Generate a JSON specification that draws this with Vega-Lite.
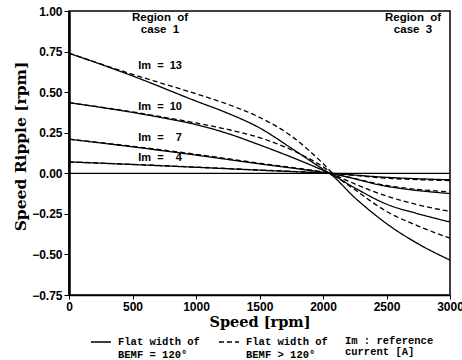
{
  "$schema": "https://vega.github.io/schema/vega-lite/v6.json",
  "width": 381,
  "height": 284,
  "autosize": {"type": "none"},
  "padding": {"left": 69, "top": 11, "right": 12, "bottom": 65},
  "background": "white",
  "config": {
    "view": {"stroke": "black", "strokeWidth": 1.5},
    "axis": {
      "labelFont": "Liberation Sans",
      "labelFontWeight": "bold",
      "labelFontSize": 12,
      "labelColor": "black",
      "titleFont": "DejaVu Serif",
      "titleFontWeight": "bold",
      "titleColor": "black",
      "domainColor": "black",
      "tickColor": "black",
      "grid": false
    }
  },
  "datasets": {
    "curves": [
      {"s": "S13", "type": "Flat width of|\u00a0BEMF = 120°", "rpm": 0, "v": 0.74},
      {"s": "S13", "type": "Flat width of|\u00a0BEMF = 120°", "rpm": 500, "v": 0.6},
      {"s": "S13", "type": "Flat width of|\u00a0BEMF = 120°", "rpm": 1000, "v": 0.445},
      {"s": "S13", "type": "Flat width of|\u00a0BEMF = 120°", "rpm": 1250, "v": 0.37},
      {"s": "S13", "type": "Flat width of|\u00a0BEMF = 120°", "rpm": 1500, "v": 0.28},
      {"s": "S13", "type": "Flat width of|\u00a0BEMF = 120°", "rpm": 1750, "v": 0.155},
      {"s": "S13", "type": "Flat width of|\u00a0BEMF = 120°", "rpm": 2000, "v": 0.025},
      {"s": "S13", "type": "Flat width of|\u00a0BEMF = 120°", "rpm": 2050, "v": 0},
      {"s": "S13", "type": "Flat width of|\u00a0BEMF = 120°", "rpm": 2250, "v": -0.15},
      {"s": "S13", "type": "Flat width of|\u00a0BEMF = 120°", "rpm": 2500, "v": -0.31},
      {"s": "S13", "type": "Flat width of|\u00a0BEMF = 120°", "rpm": 2750, "v": -0.435},
      {"s": "S13", "type": "Flat width of|\u00a0BEMF = 120°", "rpm": 3000, "v": -0.535},

      {"s": "D13", "type": "Flat width of|\u00a0BEMF > 120°", "rpm": 0, "v": 0.74},
      {"s": "D13", "type": "Flat width of|\u00a0BEMF > 120°", "rpm": 500, "v": 0.61},
      {"s": "D13", "type": "Flat width of|\u00a0BEMF > 120°", "rpm": 750, "v": 0.55},
      {"s": "D13", "type": "Flat width of|\u00a0BEMF > 120°", "rpm": 1000, "v": 0.49},
      {"s": "D13", "type": "Flat width of|\u00a0BEMF > 120°", "rpm": 1250, "v": 0.425},
      {"s": "D13", "type": "Flat width of|\u00a0BEMF > 120°", "rpm": 1500, "v": 0.345},
      {"s": "D13", "type": "Flat width of|\u00a0BEMF > 120°", "rpm": 1750, "v": 0.23},
      {"s": "D13", "type": "Flat width of|\u00a0BEMF > 120°", "rpm": 2000, "v": 0.06},
      {"s": "D13", "type": "Flat width of|\u00a0BEMF > 120°", "rpm": 2075, "v": 0},
      {"s": "D13", "type": "Flat width of|\u00a0BEMF > 120°", "rpm": 2250, "v": -0.1},
      {"s": "D13", "type": "Flat width of|\u00a0BEMF > 120°", "rpm": 2500, "v": -0.235},
      {"s": "D13", "type": "Flat width of|\u00a0BEMF > 120°", "rpm": 2750, "v": -0.325},
      {"s": "D13", "type": "Flat width of|\u00a0BEMF > 120°", "rpm": 3000, "v": -0.4},

      {"s": "S10", "type": "Flat width of|\u00a0BEMF = 120°", "rpm": 0, "v": 0.435},
      {"s": "S10", "type": "Flat width of|\u00a0BEMF = 120°", "rpm": 500, "v": 0.375},
      {"s": "S10", "type": "Flat width of|\u00a0BEMF = 120°", "rpm": 750, "v": 0.34},
      {"s": "S10", "type": "Flat width of|\u00a0BEMF = 120°", "rpm": 1000, "v": 0.3},
      {"s": "S10", "type": "Flat width of|\u00a0BEMF = 120°", "rpm": 1250, "v": 0.245},
      {"s": "S10", "type": "Flat width of|\u00a0BEMF = 120°", "rpm": 1500, "v": 0.175},
      {"s": "S10", "type": "Flat width of|\u00a0BEMF = 120°", "rpm": 1750, "v": 0.1},
      {"s": "S10", "type": "Flat width of|\u00a0BEMF = 120°", "rpm": 2000, "v": 0.018},
      {"s": "S10", "type": "Flat width of|\u00a0BEMF = 120°", "rpm": 2050, "v": 0},
      {"s": "S10", "type": "Flat width of|\u00a0BEMF = 120°", "rpm": 2250, "v": -0.09},
      {"s": "S10", "type": "Flat width of|\u00a0BEMF = 120°", "rpm": 2500, "v": -0.19},
      {"s": "S10", "type": "Flat width of|\u00a0BEMF = 120°", "rpm": 2750, "v": -0.25},
      {"s": "S10", "type": "Flat width of|\u00a0BEMF = 120°", "rpm": 3000, "v": -0.3},

      {"s": "D10", "type": "Flat width of|\u00a0BEMF > 120°", "rpm": 0, "v": 0.435},
      {"s": "D10", "type": "Flat width of|\u00a0BEMF > 120°", "rpm": 500, "v": 0.378},
      {"s": "D10", "type": "Flat width of|\u00a0BEMF > 120°", "rpm": 750, "v": 0.345},
      {"s": "D10", "type": "Flat width of|\u00a0BEMF > 120°", "rpm": 1000, "v": 0.31},
      {"s": "D10", "type": "Flat width of|\u00a0BEMF > 120°", "rpm": 1250, "v": 0.27},
      {"s": "D10", "type": "Flat width of|\u00a0BEMF > 120°", "rpm": 1500, "v": 0.22},
      {"s": "D10", "type": "Flat width of|\u00a0BEMF > 120°", "rpm": 1750, "v": 0.145},
      {"s": "D10", "type": "Flat width of|\u00a0BEMF > 120°", "rpm": 2000, "v": 0.04},
      {"s": "D10", "type": "Flat width of|\u00a0BEMF > 120°", "rpm": 2075, "v": 0},
      {"s": "D10", "type": "Flat width of|\u00a0BEMF > 120°", "rpm": 2250, "v": -0.065},
      {"s": "D10", "type": "Flat width of|\u00a0BEMF > 120°", "rpm": 2500, "v": -0.14},
      {"s": "D10", "type": "Flat width of|\u00a0BEMF > 120°", "rpm": 2750, "v": -0.195},
      {"s": "D10", "type": "Flat width of|\u00a0BEMF > 120°", "rpm": 3000, "v": -0.235},

      {"s": "S7", "type": "Flat width of|\u00a0BEMF = 120°", "rpm": 0, "v": 0.21},
      {"s": "S7", "type": "Flat width of|\u00a0BEMF = 120°", "rpm": 500, "v": 0.163},
      {"s": "S7", "type": "Flat width of|\u00a0BEMF = 120°", "rpm": 1000, "v": 0.112},
      {"s": "S7", "type": "Flat width of|\u00a0BEMF = 120°", "rpm": 1500, "v": 0.058},
      {"s": "S7", "type": "Flat width of|\u00a0BEMF = 120°", "rpm": 2000, "v": 0.006},
      {"s": "S7", "type": "Flat width of|\u00a0BEMF = 120°", "rpm": 2050, "v": 0},
      {"s": "S7", "type": "Flat width of|\u00a0BEMF = 120°", "rpm": 2500, "v": -0.08},
      {"s": "S7", "type": "Flat width of|\u00a0BEMF = 120°", "rpm": 3000, "v": -0.125},

      {"s": "D7", "type": "Flat width of|\u00a0BEMF > 120°", "rpm": 0, "v": 0.21},
      {"s": "D7", "type": "Flat width of|\u00a0BEMF > 120°", "rpm": 500, "v": 0.166},
      {"s": "D7", "type": "Flat width of|\u00a0BEMF > 120°", "rpm": 1000, "v": 0.117},
      {"s": "D7", "type": "Flat width of|\u00a0BEMF > 120°", "rpm": 1500, "v": 0.062},
      {"s": "D7", "type": "Flat width of|\u00a0BEMF > 120°", "rpm": 2000, "v": 0.008},
      {"s": "D7", "type": "Flat width of|\u00a0BEMF > 120°", "rpm": 2060, "v": 0},
      {"s": "D7", "type": "Flat width of|\u00a0BEMF > 120°", "rpm": 2500, "v": -0.075},
      {"s": "D7", "type": "Flat width of|\u00a0BEMF > 120°", "rpm": 3000, "v": -0.115},

      {"s": "S4", "type": "Flat width of|\u00a0BEMF = 120°", "rpm": 0, "v": 0.07},
      {"s": "S4", "type": "Flat width of|\u00a0BEMF = 120°", "rpm": 500, "v": 0.054},
      {"s": "S4", "type": "Flat width of|\u00a0BEMF = 120°", "rpm": 1000, "v": 0.037},
      {"s": "S4", "type": "Flat width of|\u00a0BEMF = 120°", "rpm": 1500, "v": 0.019},
      {"s": "S4", "type": "Flat width of|\u00a0BEMF = 120°", "rpm": 2000, "v": 0.002},
      {"s": "S4", "type": "Flat width of|\u00a0BEMF = 120°", "rpm": 2050, "v": 0},
      {"s": "S4", "type": "Flat width of|\u00a0BEMF = 120°", "rpm": 2500, "v": -0.025},
      {"s": "S4", "type": "Flat width of|\u00a0BEMF = 120°", "rpm": 3000, "v": -0.04},

      {"s": "D4", "type": "Flat width of|\u00a0BEMF > 120°", "rpm": 0, "v": 0.07},
      {"s": "D4", "type": "Flat width of|\u00a0BEMF > 120°", "rpm": 500, "v": 0.055},
      {"s": "D4", "type": "Flat width of|\u00a0BEMF > 120°", "rpm": 1000, "v": 0.038},
      {"s": "D4", "type": "Flat width of|\u00a0BEMF > 120°", "rpm": 1500, "v": 0.02},
      {"s": "D4", "type": "Flat width of|\u00a0BEMF > 120°", "rpm": 2000, "v": 0.003},
      {"s": "D4", "type": "Flat width of|\u00a0BEMF > 120°", "rpm": 2060, "v": 0},
      {"s": "D4", "type": "Flat width of|\u00a0BEMF > 120°", "rpm": 2500, "v": -0.03},
      {"s": "D4", "type": "Flat width of|\u00a0BEMF > 120°", "rpm": 3000, "v": -0.045}
    ],
    "labels": [
      {"rpm": 545, "v": 0.66, "text": "Im\u00a0\u00a0=\u00a0\u00a013"},
      {"rpm": 545, "v": 0.41, "text": "Im\u00a0\u00a0=\u00a0\u00a010"},
      {"rpm": 545, "v": 0.215, "text": "Im\u00a0\u00a0=\u00a0\u00a0\u00a0\u00a07"},
      {"rpm": 545, "v": 0.097, "text": "Im\u00a0\u00a0=\u00a0\u00a0\u00a0\u00a04"}
    ],
    "regions": [
      {"rpm": 717, "v": 0.955, "text": "Region\u00a0\u00a0of"},
      {"rpm": 717, "v": 0.885, "text": "case\u00a0\u00a01"},
      {"rpm": 2709, "v": 0.955, "text": "Region\u00a0\u00a0of"},
      {"rpm": 2709, "v": 0.885, "text": "case\u00a0\u00a03"}
    ],
    "note": [
      {"rpm": 2173, "v": -1.0, "text": "Im : reference|\u00a0\u00a0current [A]"}
    ]
  },
  "layer": [
    {
      "data": {"values": [{"v": 0}]},
      "mark": {"type": "rule", "color": "black", "strokeWidth": 1.2},
      "encoding": {"y": {"field": "v", "type": "quantitative", "scale": {"domain": [-0.75, 1]}}}
    },
    {
      "data": {"name": "curves"},
      "mark": {"type": "line", "color": "black", "strokeWidth": 1.3, "interpolate": "monotone"},
      "encoding": {
        "x": {
          "field": "rpm", "type": "quantitative",
          "scale": {"domain": [0, 3000], "nice": false},
          "axis": {"values": [0, 500, 1000, 1500, 2000, 2500, 3000], "format": "d", "title": "Speed [rpm]", "titleFontSize": 14.5, "tickSize": 4, "domainWidth": 1.5, "labelPadding": 2, "titlePadding": 3, "labelFlush": false}
        },
        "y": {
          "field": "v", "type": "quantitative",
          "scale": {"domain": [-0.75, 1], "nice": false, "zero": false},
          "axis": {"values": [-0.75, -0.5, -0.25, 0, 0.25, 0.5, 0.75, 1], "format": ".2f", "title": "Speed Ripple [rpm]", "titleFontSize": 15.5, "titleY": 135, "tickSize": 5, "domainWidth": 2.5, "labelPadding": 2, "titlePadding": 3}
        },
        "detail": {"field": "s"},
        "strokeDash": {
          "field": "type", "type": "nominal",
          "scale": {
            "domain": ["Flat width of|\u00a0BEMF = 120°", "Flat width of|\u00a0BEMF > 120°"],
            "range": [[1, 0], [5, 3]]
          },
          "legend": {
            "orient": "none",
            "legendX": 21,
            "legendY": 320,
            "padding": 0,
            "direction": "horizontal",
            "title": null,
            "symbolType": "stroke",
            "symbolStrokeColor": "black",
            "symbolStrokeWidth": 1.5,
            "symbolSize": 400,
            "labelExpr": "split(datum.label, '|')",
            "labelFont": "Liberation Mono",
            "labelFontWeight": "bold",
            "labelFontSize": 10.5,
            "labelColor": "black",
            "labelLimit": 200,
            "labelOffset": 6,
            "columnPadding": 16
          }
        }
      }
    },
    {
      "data": {"name": "labels"},
      "mark": {"type": "text", "align": "left", "baseline": "middle", "font": "Liberation Sans", "fontWeight": "bold", "fontSize": 11, "color": "black"},
      "encoding": {
        "x": {"field": "rpm", "type": "quantitative"},
        "y": {"field": "v", "type": "quantitative"},
        "text": {"field": "text"}
      }
    },
    {
      "data": {"name": "regions"},
      "mark": {"type": "text", "align": "center", "baseline": "middle", "font": "Liberation Sans", "fontWeight": "bold", "fontSize": 11.5, "color": "black"},
      "encoding": {
        "x": {"field": "rpm", "type": "quantitative"},
        "y": {"field": "v", "type": "quantitative"},
        "text": {"field": "text"}
      }
    },
    {
      "data": {"name": "note"},
      "mark": {"type": "text", "align": "left", "baseline": "top", "lineBreak": "|", "lineHeight": 11, "font": "Liberation Mono", "fontWeight": "bold", "fontSize": 10.5, "color": "black"},
      "encoding": {
        "x": {"field": "rpm", "type": "quantitative"},
        "y": {"field": "v", "type": "quantitative"},
        "text": {"field": "text"}
      }
    }
  ]
}
